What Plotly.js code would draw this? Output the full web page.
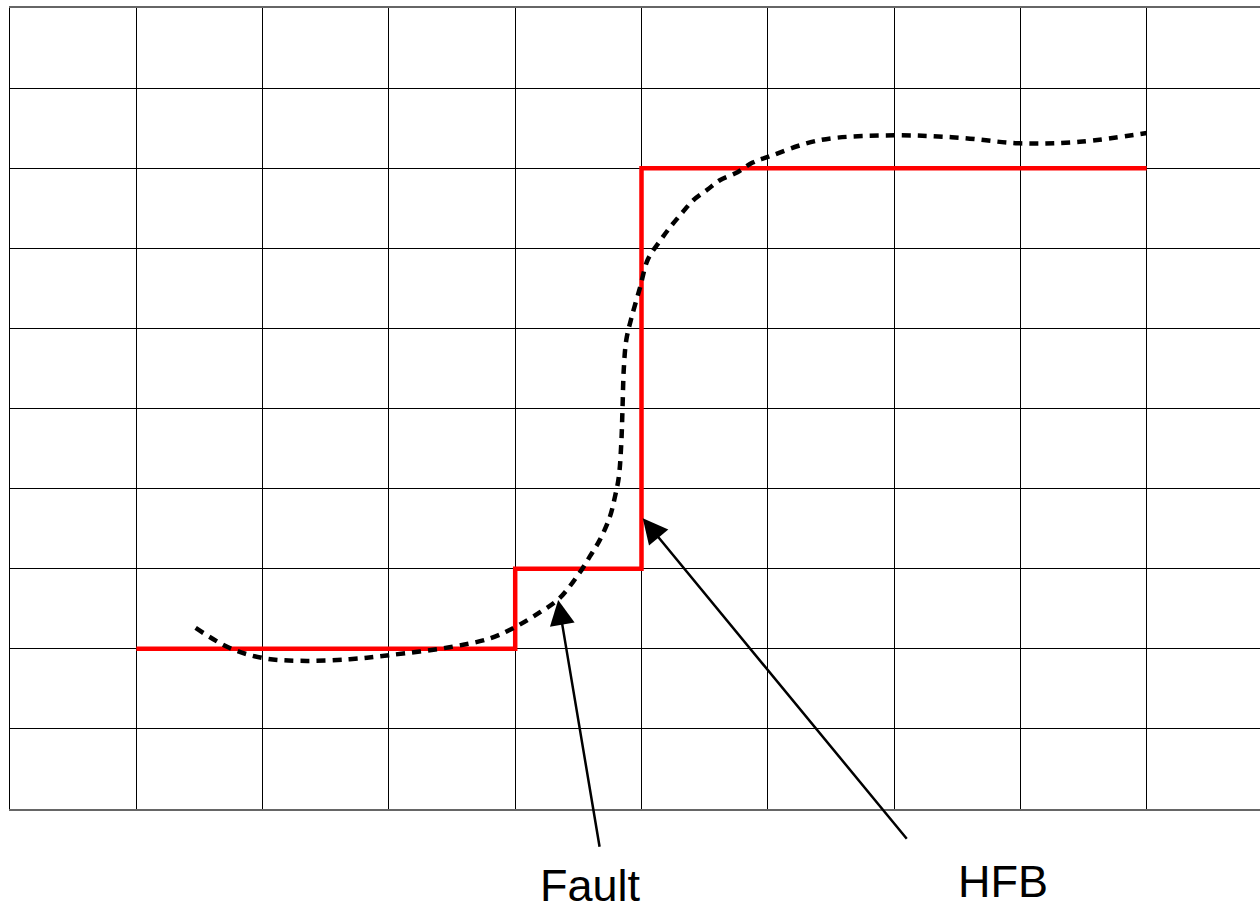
<!DOCTYPE html>
<html>
<head>
<meta charset="utf-8">
<script src="https://cdn.plot.ly/plotly-3.0.1.min.js"></script>
<style>html,body{margin:0;padding:0;background:#fff;overflow:hidden;}#chart{width:1260px;height:912px;}</style>
</head>
<body>
<div id="chart"></div>
<script>
// HFB step model
const hfbX = [1, 4, 4, 5, 5, 9];
const hfbY = [2, 2, 3, 3, 8, 8];
// Fault (true) profile, dashed
const faultX = [1.47, 1.74, 2.0, 2.3, 2.69, 3.0, 3.48, 3.8, 4.01, 4.2, 4.35, 4.51, 4.59, 4.67, 4.75, 4.79, 4.82, 4.84, 4.85, 4.86, 4.88, 4.92, 4.99, 5.05, 5.15, 5.23, 5.32, 5.41, 5.52, 5.62, 5.76, 5.88, 6.0, 6.41, 7.01, 7.52, 8.0, 8.47, 9.0];
const faultY = [2.26, 2.01, 1.885, 1.85, 1.87, 1.92, 2.02, 2.13, 2.28, 2.46, 2.63, 2.95, 3.15, 3.36, 3.65, 3.9, 4.14, 4.57, 5.02, 5.5, 5.86, 6.13, 6.52, 6.86, 7.1, 7.27, 7.44, 7.6, 7.73, 7.85, 7.95, 8.07, 8.14, 8.35, 8.41, 8.38, 8.31, 8.33, 8.44];
// labels
const labels = ["Fault", "HFB"];
const labelX = [4.6, 7.86];
const labelY = [-0.096, -0.09];   // paper coordinates below the plot
const arrowTipX = [4.34, 5.01];
const arrowTipY = [2.61, 3.63];
const arrowTailX = [4.67, 7.11];
const arrowTailY = [-0.49, -0.39];

const traces = [
  {x: hfbX, y: hfbY, mode: 'lines', line: {color: '#ff0000', width: 4.5}, hoverinfo: 'skip'},
  {x: faultX, y: faultY, mode: 'lines', line: {color: '#000', width: 4.5, dash: '9px,7px', shape: 'spline', smoothing: 1}, hoverinfo: 'skip'}
];

const annotations = [];
for (let i = 0; i < labels.length; i++) {
  annotations.push({x: labelX[i], y: labelY[i], xref: 'x', yref: 'paper', text: labels[i], showarrow: false,
    font: {family: 'Liberation Sans, Arial, sans-serif', size: 45, color: '#000'}, xanchor: 'center', yanchor: 'middle'});
  annotations.push({x: arrowTipX[i], y: arrowTipY[i], xref: 'x', yref: 'y', ax: arrowTailX[i], ay: arrowTailY[i],
    axref: 'x', ayref: 'y', text: '', showarrow: true, arrowhead: 2, arrowsize: 2.0, arrowwidth: 2.5, arrowcolor: '#000'});
}

const layout = {
  width: 1260, height: 912,
  margin: {l: 10, r: 0, t: 8, b: 103},
  paper_bgcolor: '#fff', plot_bgcolor: '#fff',
  showlegend: false,
  xaxis: {range: [0, 9.897], dtick: 1, tick0: 0, showgrid: true, gridcolor: '#000', gridwidth: 1,
    showticklabels: false, ticks: '', zeroline: false, showline: true, mirror: true, linecolor: '#666', linewidth: 2, fixedrange: true},
  yaxis: {range: [0, 10], dtick: 1, tick0: 0, showgrid: true, gridcolor: '#000', gridwidth: 1,
    showticklabels: false, ticks: '', zeroline: false, showline: true, linecolor: '#000', linewidth: 1.5, fixedrange: true},
  annotations: annotations
};

Plotly.newPlot('chart', traces, layout, {displayModeBar: false, staticPlot: true});
</script>
</body>
</html>
